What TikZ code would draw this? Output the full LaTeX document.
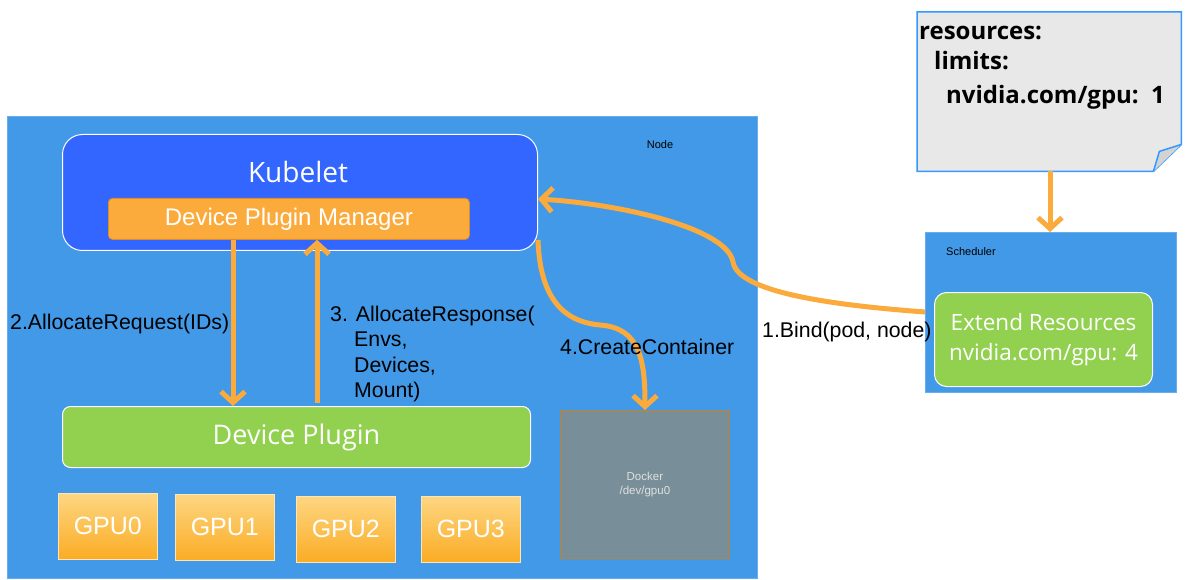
\documentclass[tikz,border=0pt]{standalone}
\usepackage{fontspec}
\setmainfont{Liberation Sans}
\newfontfamily\os{Open Sans}
\usetikzlibrary{arrows.meta,calc}
\definecolor{nodeblue}{RGB}{66,153,232}
\definecolor{kblue}{RGB}{51,102,255}
\definecolor{orng}{RGB}{251,170,60}
\definecolor{orngdark}{RGB}{220,140,40}
\definecolor{grn}{RGB}{146,208,80}
\definecolor{dock}{RGB}{120,143,153}
\definecolor{dockborder}{RGB}{190,130,50}
\definecolor{docbg}{RGB}{232,232,232}
\definecolor{docborder}{RGB}{51,153,255}
\definecolor{gputop}{RGB}{253,214,130}
\definecolor{gpubot}{RGB}{251,172,36}
\begin{document}
\begin{tikzpicture}[x=1pt,y=-1pt,
  flow/.style={draw=orng, line width=5pt, -{Straight Barb[length=11pt,width=24pt]}},
  lbl/.style={font=\fontsize{21.3}{25.3}\selectfont, text=black, inner sep=0pt},
  small/.style={font=\fontsize{11}{13}\selectfont, text=black, inner sep=0pt},
  area/.style={fill=nodeblue, draw=nodeblue!80!white, line width=0.6pt, anchor=north west, inner sep=0pt},
  gpu/.style={minimum width=99pt, minimum height=66pt, top color=gputop, bottom color=gpubot, draw=gputop!60!white, line width=0.6pt, text=white, font=\fontsize{25}{25}\selectfont, anchor=north west, inner sep=0pt},
  greenbox/.style={fill=grn, draw=white, line width=1pt, text=white, anchor=north west, inner sep=0pt},
  doctext/.style={font=\os\bfseries\fontsize{24}{24}\selectfont, text=black, inner sep=0pt, anchor=base west}]
\useasboundingbox (0,0) rectangle (1189,580);

% Node area
\node[area, minimum width=750pt, minimum height=462pt] (nodearea) at (7,116) {};
\node[small, anchor=base] (nodelbl) at (660,149) {Node};

% Kubelet
\node[fill=kblue, draw=white, line width=1pt, rounded corners=20pt, minimum width=475pt, minimum height=116pt, anchor=north west, inner sep=0pt] (kubelet) at (62,134) {};
\node[text=white, font=\os\fontsize{28}{28}\selectfont, inner sep=0pt, anchor=base] (kubelbl) at (298,183) {Kubelet};
\node[fill=orng, draw=orngdark, line width=0.8pt, rounded corners=4pt, minimum width=361pt, minimum height=41pt, anchor=north west, inner sep=0pt] (dpm) at (108,198) {};
\node[text=white, font=\fontsize{24}{24}\selectfont, inner sep=0pt] (dpmlbl) at (dpm.center) {Device Plugin Manager};

% Device plugin
\node[greenbox, rounded corners=8pt, minimum width=468pt, minimum height=61pt] (dp) at (62,406) {};
\node[text=white, font=\os\fontsize{27}{27}\selectfont, inner sep=0pt] (dplbl) at (dp.center) {Device Plugin};

% GPUs
\node[gpu] (g0) at (58,493) {GPU0};
\node[gpu] (g1) at (175,494) {GPU1};
\node[gpu] (g2) at (296,496) {GPU2};
\node[gpu] (g3) at (421,496) {GPU3};

% Docker
\node[fill=dock, draw=dockborder, line width=0.8pt, minimum width=169pt, minimum height=148pt, anchor=north west, inner sep=0pt, text=white!88!black, font=\fontsize{11.5}{14}\selectfont, align=center] (docker) at (560,410) {Docker\\/dev/gpu0};

% Scheduler
\node[area, minimum width=251pt, minimum height=160pt] (sched) at (925,232) {};
\node[small, anchor=base west] (schedlbl) at (946,255) {Scheduler};
\node[greenbox, rounded corners=12pt, minimum width=218pt, minimum height=94pt] (ext) at (934,292) {};
\node[text=white, font=\os\fontsize{22.5}{30}\selectfont, inner sep=0pt, align=center] (extlbl) at (ext.center) {Extend Resources\\nvidia.com/gpu: 4};

% Document
\node[minimum width=264pt, minimum height=159pt, anchor=north west, inner sep=0pt] (doc) at (917,12) {};
\draw[fill=docbg, draw=docborder, line width=1.5pt] (doc.north west) -- (doc.north east) -- ($(doc.south east)+(0,-27)$) -- ($(doc.south east)+(-28,0)$) -- (doc.south west) -- cycle;
\draw[fill=docbg!80!gray, draw=docborder, line width=1.5pt] ($(doc.south east)+(0,-27)$) -- ($(doc.south east)+(-22,-20)$) -- ($(doc.south east)+(-28,0)$);
\node[doctext] (r1) at (919,40) {resources:};
\node[doctext] (r2) at (934,70) {limits:};
\node[doctext] (r3) at (946,104) {nvidia.com/gpu:\, 1};

% Arrows
\draw[flow] (doc.south -| 1050,0) -- (sched.north -| 1050,0);
\draw[flow] (dpm.south -| 233,0) -- (dp.north -| 233,0);
\draw[flow] (dp.north -| 317,0) ++(0,-3) -- (dpm.south -| 317,0);
\coordinate (bindstart) at (sched.west |- 0,312);
\coordinate (bindend) at (kubelet.east |- 0,199);
\draw[flow] (bindstart) .. controls (830,305) and (738,292) .. (733,262) .. controls (727,228) and (620,204) .. (bindend);
\coordinate (ccstart) at (kubelet.east |- 0,240);
\draw[flow] (ccstart) .. controls (540,300) and (565,322) .. (600,325) .. controls (640,328) and (645,360) .. (docker.north -| 645,0);

% Labels
\node[lbl, anchor=base west] (l2) at (10,329) {2.AllocateRequest(IDs)};
\node[lbl, anchor=north west, align=left] (l3) at (330,306) {3. AllocateResponse(\\\hspace*{24pt}Envs,\\\hspace*{24pt}Devices,\\\hspace*{24pt}Mount)};
\node[lbl, anchor=base west] (l4) at (560,354) {4.CreateContainer};
\node[lbl, anchor=base west] (l1) at (762,337) {1.Bind(pod, node)};
\end{tikzpicture}
\end{document}
